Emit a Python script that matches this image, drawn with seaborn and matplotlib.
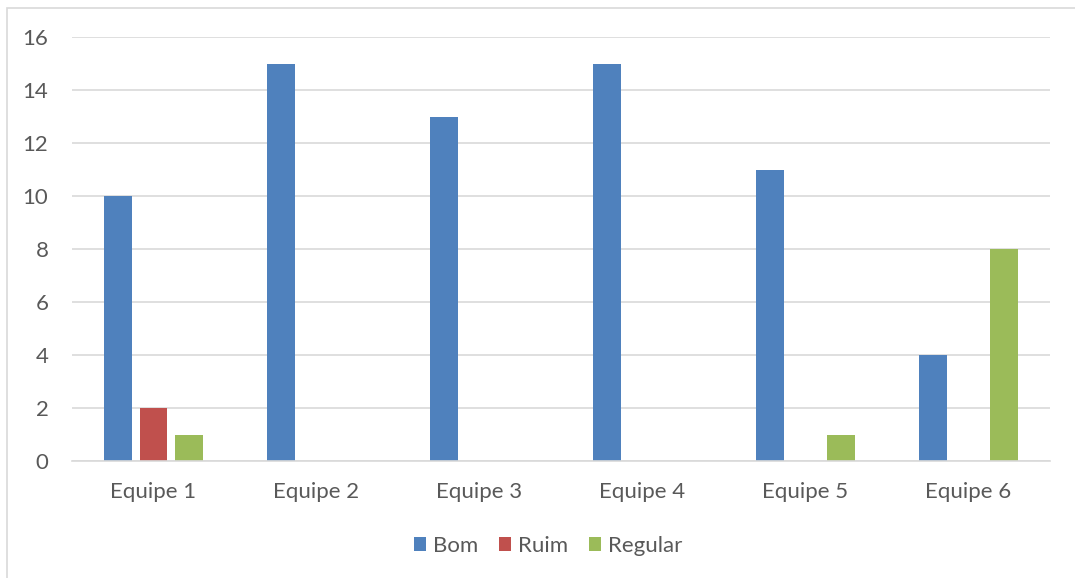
import matplotlib
matplotlib.use("Agg")
import matplotlib.pyplot as plt
import seaborn as sns
import pandas as pd
from matplotlib.patches import Rectangle, Patch

categories = ["Equipe 1", "Equipe 2", "Equipe 3", "Equipe 4", "Equipe 5", "Equipe 6"]
series_names = ["Bom", "Ruim", "Regular"]
bom = [10, 15, 13, 15, 11, 4]
ruim = [2, 0, 0, 0, 0, 0]
regular = [1, 0, 0, 0, 1, 8]
yticks = [0, 2, 4, 6, 8, 10, 12, 14, 16]
colors = ["#4F81BD", "#C0504D", "#9BBB59"]

rows = []
for name, vals in zip(series_names, [bom, ruim, regular]):
    for c, v in zip(categories, vals):
        rows.append({"Equipe": c, "Serie": name, "Valor": v})
df = pd.DataFrame(rows)

sns.set_theme(style="white")
plt.rcParams["font.family"] = ["Lato", "DejaVu Sans"]

fig = plt.figure(figsize=(10.75, 5.78), dpi=100)
ax = fig.add_axes([72/1075, 1-461/578, (1050-72)/1075, (461-37)/578])

sns.barplot(data=df, x="Equipe", y="Valor", hue="Serie", order=categories,
            hue_order=series_names, palette=colors, width=0.66, gap=0.22,
            linewidth=0, saturation=1, ax=ax, legend=False)

ax.set_ylim(0, 16)
ax.set_xlim(-0.5, 5.5)
ax.set_yticks(yticks)
ax.yaxis.grid(True, color="#D9D9D9", linewidth=1.2)
ax.set_axisbelow(True)
for s in ["top", "right", "left"]:
    ax.spines[s].set_visible(False)
ax.spines["bottom"].set_color("#D9D9D9")
ax.spines["bottom"].set_linewidth(1.2)
ax.set_xlabel("")
ax.set_ylabel("")
ax.tick_params(axis="y", length=0, pad=17, labelsize=16, labelcolor="#595959")
ax.tick_params(axis="x", length=0, pad=15, labelsize=16, labelcolor="#595959")

handles = [Patch(facecolor=c, edgecolor="none") for c in colors]
fig.legend(handles, series_names, loc="center", bbox_to_anchor=(548/1075, 1-546/578),
           ncol=3, frameon=False, fontsize=16, labelcolor="#595959",
           handlelength=0.55, handleheight=0.55, handletextpad=0.3, columnspacing=0.95)

fig.patches.append(Rectangle((7/1075, -0.1), 1.2, 1.1 - 8/578,
                             transform=fig.transFigure, fill=False,
                             edgecolor="#D9D9D9", linewidth=1.2))

fig.savefig("out.png", dpi=100)
